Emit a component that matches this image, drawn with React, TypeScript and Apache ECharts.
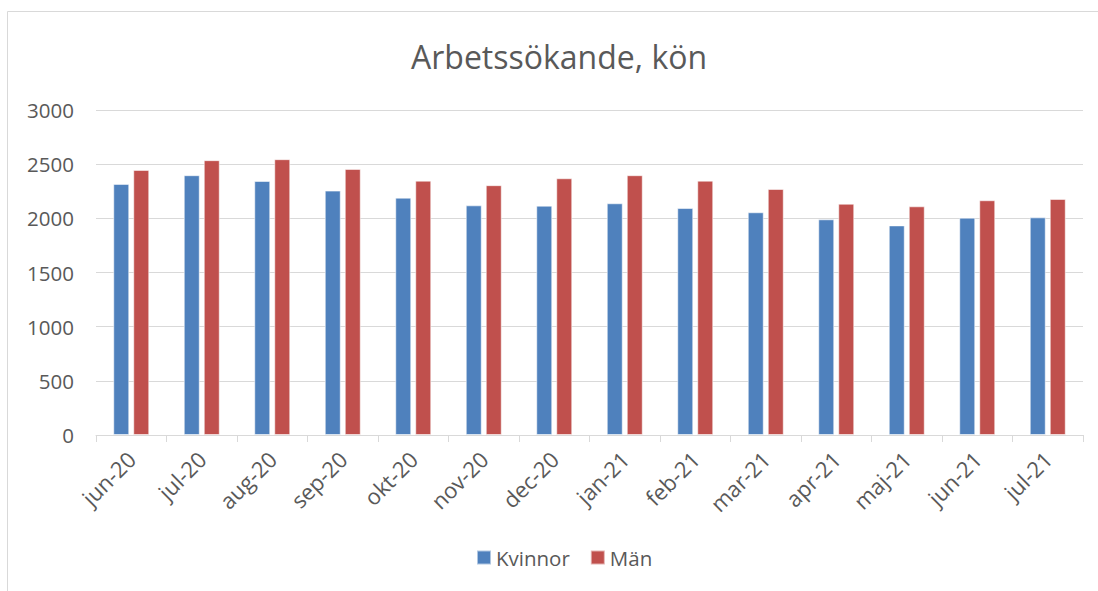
import React, { useEffect, useRef } from "react";
import * as echarts from "echarts";

const categories = [
  "jun-20", "jul-20", "aug-20", "sep-20", "okt-20", "nov-20", "dec-20",
  "jan-21", "feb-21", "mar-21", "apr-21", "maj-21", "jun-21", "jul-21",
];
const kvinnor = [2318, 2398, 2345, 2256, 2191, 2120, 2117, 2139, 2095, 2056, 1991, 1935, 2006, 2009];
const man = [2447, 2537, 2546, 2456, 2348, 2306, 2370, 2398, 2348, 2271, 2135, 2111, 2167, 2179];
const yTicks = { min: 0, max: 3000, interval: 500 };

const FONT = "'Open Sans', 'Noto Sans', sans-serif";
const TEXT = "#595959";

export default function App() {
  const ref = useRef<HTMLDivElement>(null);
  useEffect(() => {
    document.body.style.margin = "0";
    if (!ref.current) return;
    const chart = echarts.init(ref.current, undefined, { renderer: "svg" });
    chart.setOption({
      animation: false,
      backgroundColor: "#ffffff",
      textStyle: { fontFamily: FONT, color: TEXT },
      title: {
        text: "Arbetssökande, kön",
        left: 406,
        top: 35,
        textStyle: { fontFamily: FONT, fontSize: 32, fontWeight: "normal", color: TEXT },
      },
      graphic: [
        {
          type: "polyline",
          shape: { points: [[7.5, 600], [7.5, 11.5], [1100, 11.5]] },
          style: { stroke: "#d9d9d9", lineWidth: 1, fill: "none" },
          silent: true,
        },
      ],
      legend: {
        bottom: 18,
        left: 471,
        itemWidth: 14,
        itemHeight: 14,
        itemGap: 20,
        icon: "rect",
        textStyle: { fontFamily: FONT, fontSize: 20.5, color: TEXT },
        data: ["Kvinnor", "Män"],
      },
      grid: { left: 96, right: 15, top: 110, bottom: 156, containLabel: false },
      xAxis: {
        type: "category",
        data: categories,
        boundaryGap: true,
        axisLine: { lineStyle: { color: "#d9d9d9", width: 1 } },
        axisTick: { show: true, length: 7, lineStyle: { color: "#d9d9d9" } },
        axisLabel: {
          rotate: 45,
          margin: 20,
          fontFamily: FONT,
          fontSize: 22,
          color: TEXT,
          interval: 0,
        },
      },
      yAxis: {
        type: "value",
        min: yTicks.min,
        max: yTicks.max,
        interval: yTicks.interval,
        axisLine: { show: false },
        axisTick: { show: false },
        splitLine: { lineStyle: { color: "#d9d9d9", width: 1 } },
        axisLabel: {
          fontFamily: FONT,
          fontSize: 20.5,
          color: TEXT,
          margin: 22,
          formatter: (v: number) => String(v),
        },
      },
      series: [
        {
          name: "Kvinnor",
          type: "bar",
          data: kvinnor,
          barWidth: 16,
          barGap: "25%",
          itemStyle: { color: "#4f81bd", borderColor: "rgba(255,255,255,0.55)", borderWidth: 1 },
        },
        {
          name: "Män",
          type: "bar",
          data: man,
          barWidth: 16,
          barGap: "25%",
          itemStyle: { color: "#c0504d", borderColor: "rgba(255,255,255,0.55)", borderWidth: 1 },
        },
      ],
    });
    return () => chart.dispose();
  }, []);
  return <div ref={ref} style={{ width: 1098, height: 591 }} />;
}
